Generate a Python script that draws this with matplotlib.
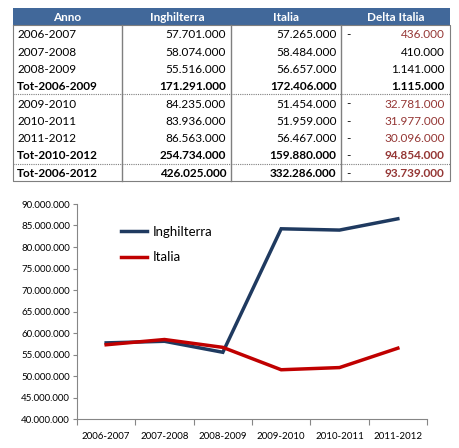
import matplotlib.pyplot as plt
from matplotlib.ticker import FuncFormatter, FixedLocator

plt.rcParams['font.family'] = ['Lato', 'DejaVu Sans']

# table data
anni = ["2006-2007", "2007-2008", "2008-2009", "Tot-2006-2009",
        "2009-2010", "2010-2011", "2011-2012", "Tot-2010-2012", "Tot-2006-2012"]
inghilterra_tab = [57701000, 58074000, 55516000, 171291000,
                   84235000, 83936000, 86563000, 254734000, 426025000]
italia_tab = [57265000, 58484000, 56657000, 172406000,
              51454000, 51959000, 56467000, 159880000, 332286000]
delta_italia = [-436000, 410000, 1141000, 1115000,
                -32781000, -31977000, -30096000, -94854000, -93739000]
bold_rows = [3, 7, 8]
headers = ["Anno", "Inghilterra", "Italia", "Delta Italia"]

# chart data
stagioni = ["2006-2007", "2007-2008", "2008-2009", "2009-2010", "2010-2011", "2011-2012"]
inghilterra = [57701000, 58074000, 55516000, 84235000, 83936000, 86563000]
italia = [57265000, 58484000, 56657000, 51454000, 51959000, 56467000]

HEAD = "#41689a"
NEG = "#953735"
BLUE = "#1f3a60"
RED = "#c00000"


def fmt(v):
    return f"{int(v):,}".replace(",", ".")


fig = plt.figure(figsize=(4.6, 4.48), dpi=100)
W, H = 460, 448

# ---- table ----
tx0, tx1, ty0, ty1 = 13, 450, 8, 181
tab = fig.add_axes([tx0 / W, 1 - ty1 / H, (tx1 - tx0) / W, (ty1 - ty0) / H])
nrows = len(anni)
tab.set_xlim(0, 4)
tab.set_ylim(nrows + 1, 0)
tab.axis("off")

tab.fill_between([0, 4], 0, 1, color=HEAD, lw=0)
for j, h in enumerate(headers):
    tab.text(j + 0.5, 0.55, h, color="white", fontsize=8.5, fontweight="bold",
             ha="center", va="center")

for i in range(nrows):
    y = i + 1.55
    fw = "bold" if i in bold_rows else "normal"
    tab.text(0.04, y, anni[i], fontsize=8.5, fontweight=fw, ha="left", va="center")
    tab.text(1.95, y, fmt(inghilterra_tab[i]), fontsize=8.5, fontweight=fw,
             ha="right", va="center")
    tab.text(2.96, y, fmt(italia_tab[i]), fontsize=8.5, fontweight=fw,
             ha="right", va="center")
    d = delta_italia[i]
    col = NEG if d < 0 else "black"
    if d < 0:
        tab.text(3.05, y, "-", fontsize=8.5, ha="left", va="center")
    tab.text(3.95, y, fmt(abs(d)), fontsize=8.5, fontweight=fw, color=col,
             ha="right", va="center")

# borders
tab.plot([0, 4, 4, 0, 0], [1, 1, nrows + 1, nrows + 1, 1], color="#7f7f7f",
         lw=0.8, clip_on=False)
for j in (1, 2, 3):
    tab.plot([j, j], [1, nrows + 1], color="#7f7f7f", lw=1.0, clip_on=False)
for r in (5, 9):
    tab.plot([0, 4], [r, r], color="#7f7f7f", lw=0.8, ls=(0, (1, 1)))

# ---- line chart ----
ax = fig.add_axes([77 / W, 1 - 419 / H, 350 / W, 215 / H])
x = list(range(len(stagioni)))
ax.plot(x, inghilterra, color=BLUE, lw=2.5, label="Inghilterra", solid_joinstyle="miter")
ax.plot(x, italia, color=RED, lw=2.5, label="Italia", solid_joinstyle="miter")

ax.set_xlim(-0.5, len(stagioni) - 0.5)
ax.set_ylim(40000000, 90000000)
ax.set_yticks(range(40000000, 90000001, 5000000))
ax.yaxis.set_major_formatter(FuncFormatter(lambda v, p: fmt(v)))
ax.set_xticks(x)
ax.set_xticklabels(stagioni)
ax.xaxis.set_minor_locator(FixedLocator([i - 0.5 for i in range(len(stagioni) + 1)]))
ax.tick_params(axis="x", which="major", length=0, labelsize=7, pad=9)
ax.tick_params(axis="x", which="minor", length=4, color="#868686", width=0.8)
ax.tick_params(axis="y", length=3, color="#868686", width=0.8, labelsize=7, pad=2)
for s in ("top", "right"):
    ax.spines[s].set_visible(False)
for s in ("left", "bottom"):
    ax.spines[s].set_color("#868686")
    ax.spines[s].set_linewidth(0.8)

ax.legend(loc="upper left", bbox_to_anchor=(0.125, 0.9), frameon=False,
          fontsize=9.5, handlelength=2.0, handletextpad=0.4, labelspacing=1.05,
          borderpad=0, borderaxespad=0)

fig.savefig("out.png", dpi=100)
